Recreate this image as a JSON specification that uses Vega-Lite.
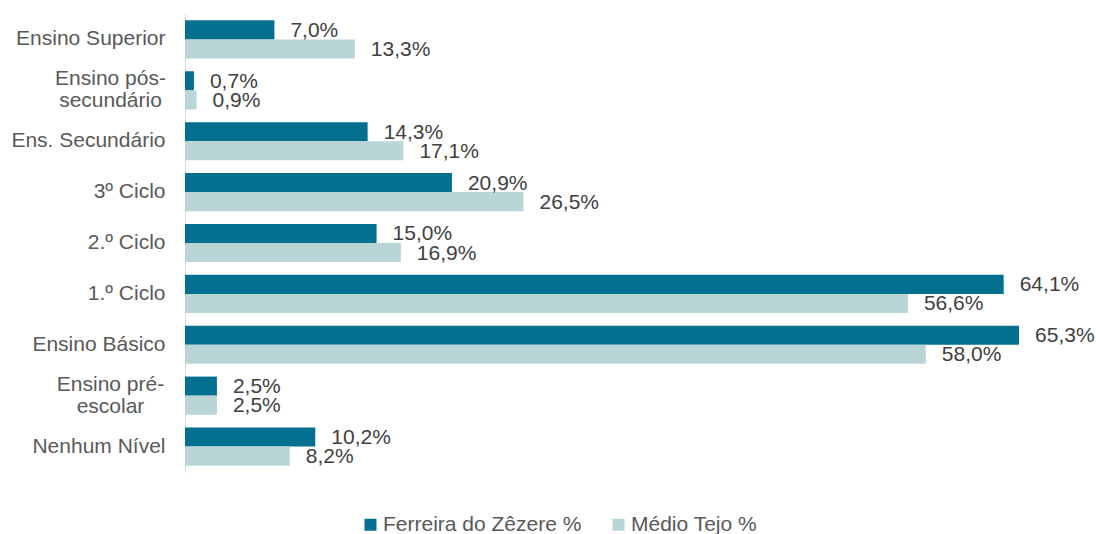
{
  "$schema": "https://vega.github.io/schema/vega-lite/v6.json",
  "width": 880,
  "height": 458,
  "autosize": {"type": "none"},
  "padding": {"left": 185, "top": 14, "right": 31, "bottom": 62},
  "background": "white",
  "data": {
    "values": [
      {"cat": "Ensino Superior", "serie": "Ferreira do Zêzere %", "v": 7.0},
      {"cat": "Ensino Superior", "serie": "Médio Tejo %", "v": 13.3},
      {"cat": "Ensino pós-secundário", "serie": "Ferreira do Zêzere %", "v": 0.7},
      {"cat": "Ensino pós-secundário", "serie": "Médio Tejo %", "v": 0.9},
      {"cat": "Ens. Secundário", "serie": "Ferreira do Zêzere %", "v": 14.3},
      {"cat": "Ens. Secundário", "serie": "Médio Tejo %", "v": 17.1},
      {"cat": "3º Ciclo", "serie": "Ferreira do Zêzere %", "v": 20.9},
      {"cat": "3º Ciclo", "serie": "Médio Tejo %", "v": 26.5},
      {"cat": "2.º Ciclo", "serie": "Ferreira do Zêzere %", "v": 15.0},
      {"cat": "2.º Ciclo", "serie": "Médio Tejo %", "v": 16.9},
      {"cat": "1.º Ciclo", "serie": "Ferreira do Zêzere %", "v": 64.1},
      {"cat": "1.º Ciclo", "serie": "Médio Tejo %", "v": 56.6},
      {"cat": "Ensino Básico", "serie": "Ferreira do Zêzere %", "v": 65.3},
      {"cat": "Ensino Básico", "serie": "Médio Tejo %", "v": 58.0},
      {"cat": "Ensino pré-escolar", "serie": "Ferreira do Zêzere %", "v": 2.5},
      {"cat": "Ensino pré-escolar", "serie": "Médio Tejo %", "v": 2.5},
      {"cat": "Nenhum Nível", "serie": "Ferreira do Zêzere %", "v": 10.2},
      {"cat": "Nenhum Nível", "serie": "Médio Tejo %", "v": 8.2}
    ]
  },
  "transform": [
    {"calculate": "replace(format(datum.v, '.1f'), '.', ',') + '%'", "as": "lbl"}
  ],
  "encoding": {
    "y": {
      "field": "cat",
      "type": "nominal",
      "sort": null,
      "scale": {"paddingInner": 0.25, "paddingOuter": 0.125},
      "axis": {
        "title": null,
        "ticks": false,
        "labelPadding": {"condition": {"test": "indexof(datum.value, '-') >= 0", "value": 75}, "value": 20},
        "labelAlign": {"condition": {"test": "indexof(datum.value, '-') >= 0", "value": "center"}, "value": "right"},
        "labelOffset": {"condition": {"test": "indexof(datum.value, '-') >= 0", "value": -11}, "value": 0},
        "labelFont": "Liberation Sans",
        "labelFontSize": 21,
        "labelColor": "#595959",
        "labelLineHeight": 22,
        "labelLimit": 300,
        "domainColor": "#D9D9D9",
        "domainWidth": 1,
        "labelExpr": "datum.value == 'Ensino pós-secundário' ? ['Ensino pós-', 'secundário'] : datum.value == 'Ensino pré-escolar' ? ['Ensino pré-', 'escolar'] : datum.value"
      }
    },
    "yOffset": {"field": "serie", "type": "nominal", "sort": ["Ferreira do Zêzere %", "Médio Tejo %"]},
    "x": {
      "field": "v",
      "type": "quantitative",
      "scale": {"domain": [0, 68.9], "nice": false, "zero": true},
      "axis": null
    }
  },
  "layer": [
    {
      "mark": {"type": "bar"},
      "encoding": {
        "color": {
          "field": "serie",
          "type": "nominal",
          "sort": ["Ferreira do Zêzere %", "Médio Tejo %"],
          "scale": {"domain": ["Ferreira do Zêzere %", "Médio Tejo %"], "range": ["#03708F", "#B9D5D6"]},
          "legend": {
            "title": null,
            "orient": "none",
            "direction": "horizontal",
            "legendX": 175,
            "legendY": 500,
            "symbolType": "square",
            "symbolSize": 144,
            "symbolStrokeWidth": 0,
            "labelFont": "Liberation Sans",
            "labelFontSize": 21,
            "labelColor": "#595959",
            "labelOffset": 2,
            "labelLimit": 400,
            "columnPadding": 26
          }
        }
      }
    },
    {
      "mark": {"type": "text", "align": "left", "baseline": "middle", "dx": 16, "dy": 1, "font": "Liberation Sans", "fontSize": 21, "color": "#404040"},
      "encoding": {"text": {"field": "lbl"}}
    }
  ],
  "config": {"view": {"stroke": null}}
}
